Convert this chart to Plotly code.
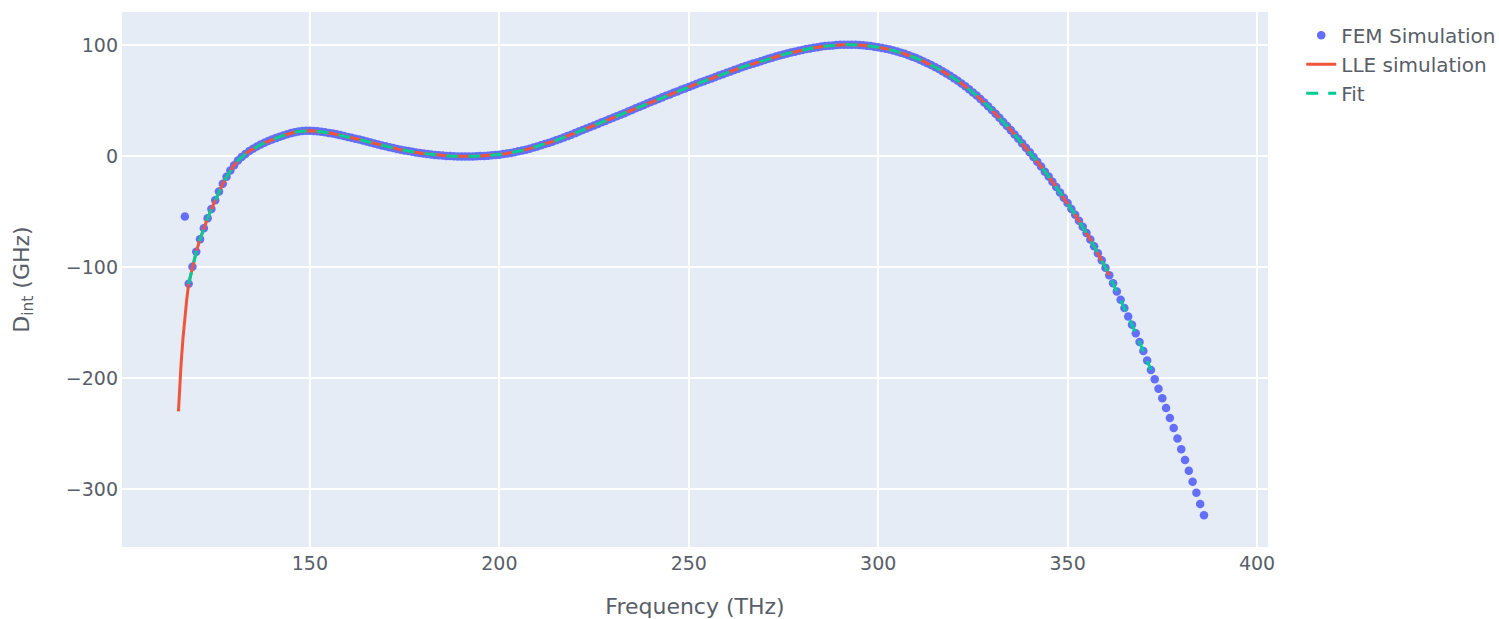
import plotly.graph_objects as go

# ---------------- data ----------------
fem_freq_thz = [
    117, 118, 119, 120, 121, 122, 123, 124, 125, 126, 127, 128, 129, 130, 131,
    132, 133, 134, 135, 136, 137, 138, 139, 140, 141, 142, 143, 144, 145, 146,
    147, 148, 149, 150, 151, 152, 153, 154, 155, 156, 157, 158, 159, 160, 161,
    162, 163, 164, 165, 166, 167, 168, 169, 170, 171, 172, 173, 174, 175, 176,
    177, 178, 179, 180, 181, 182, 183, 184, 185, 186, 187, 188, 189, 190, 191,
    192, 193, 194, 195, 196, 197, 198, 199, 200, 201, 202, 203, 204, 205, 206,
    207, 208, 209, 210, 211, 212, 213, 214, 215, 216, 217, 218, 219, 220, 221,
    222, 223, 224, 225, 226, 227, 228, 229, 230, 231, 232, 233, 234, 235, 236,
    237, 238, 239, 240, 241, 242, 243, 244, 245, 246, 247, 248, 249, 250, 251,
    252, 253, 254, 255, 256, 257, 258, 259, 260, 261, 262, 263, 264, 265, 266,
    267, 268, 269, 270, 271, 272, 273, 274, 275, 276, 277, 278, 279, 280, 281,
    282, 283, 284, 285, 286, 287, 288, 289, 290, 291, 292, 293, 294, 295, 296,
    297, 298, 299, 300, 301, 302, 303, 304, 305, 306, 307, 308, 309, 310, 311,
    312, 313, 314, 315, 316, 317, 318, 319, 320, 321, 322, 323, 324, 325, 326,
    327, 328, 329, 330, 331, 332, 333, 334, 335, 336, 337, 338, 339, 340, 341,
    342, 343, 344, 345, 346, 347, 348, 349, 350, 351, 352, 353, 354, 355, 356,
    357, 358, 359, 360, 361, 362, 363, 364, 365, 366, 367, 368, 369, 370, 371,
    372, 373, 374, 375, 376, 377, 378, 379, 380, 381, 382, 383, 384, 385, 386,
]
fem_dint_ghz = [
    -54.6, -115.1, -99.8, -86.3, -75.0, -65.1, -56.0, -47.8, -39.8, -31.9, -25.0, -18.7, -13.1, -8.3, -4.1,
    -0.8, 1.9, 4.4, 6.6, 8.5, 10.3, 11.9, 13.4, 14.8, 16.1, 17.3, 18.5, 19.6, 20.6, 21.4,
    22.1, 22.5, 22.8, 22.8, 22.6, 22.3, 21.9, 21.4, 20.8, 20.2, 19.5, 18.8, 18.0, 17.2, 16.4,
    15.6, 14.8, 13.9, 13.0, 12.1, 11.2, 10.3, 9.5, 8.7, 7.9, 7.1, 6.4, 5.7, 5.0, 4.4,
    3.8, 3.2, 2.7, 2.2, 1.8, 1.4, 1.0, 0.7, 0.4, 0.1, -0.1, -0.3, -0.4, -0.5, -0.5,
    -0.5, -0.4, -0.3, -0.1, 0.1, 0.3, 0.6, 0.9, 1.2, 1.7, 2.2, 2.8, 3.4, 4.2, 4.9,
    5.7, 6.6, 7.6, 8.6, 9.6, 10.7, 11.8, 12.9, 14.1, 15.4, 16.6, 17.9, 19.2, 20.6, 22.0,
    23.4, 24.7, 26.1, 27.4, 28.9, 30.3, 31.6, 33.0, 34.4, 35.8, 37.2, 38.6, 40.0, 41.5, 42.9,
    44.3, 45.7, 47.2, 48.6, 50.0, 51.3, 52.8, 54.2, 55.5, 56.9, 58.2, 59.6, 60.9, 62.2, 63.5,
    64.9, 66.1, 67.4, 68.7, 69.9, 71.2, 72.5, 73.7, 74.9, 76.2, 77.4, 78.6, 79.9, 81.0, 82.1,
    83.2, 84.3, 85.4, 86.5, 87.5, 88.6, 89.6, 90.5, 91.4, 92.4, 93.2, 94.0, 94.8, 95.5, 96.3,
    96.9, 97.5, 98.0, 98.6, 99.0, 99.3, 99.6, 100.0, 100.1, 100.2, 100.2, 100.2, 100.1, 99.9, 99.7,
    99.4, 99.0, 98.5, 97.9, 97.3, 96.7, 95.9, 95.0, 94.1, 93.1, 92.0, 90.8, 89.5, 88.2, 86.7,
    85.2, 83.6, 81.9, 80.1, 78.3, 76.4, 74.4, 72.2, 70.0, 67.7, 65.3, 62.8, 60.1, 57.3, 54.4,
    51.4, 48.2, 44.9, 41.4, 38.0, 34.4, 30.7, 27.1, 23.3, 19.4, 15.5, 11.5, 7.4, 3.3, -0.9,
    -5.2, -9.5, -14.1, -18.5, -23.2, -28.0, -32.8, -37.6, -42.4, -47.7, -53.0, -58.4, -63.8, -69.4, -75.3,
    -81.3, -87.5, -94.0, -100.6, -107.5, -114.7, -122.1, -129.5, -137.0, -144.6, -152.1, -159.7, -167.6, -175.7, -184.2,
    -192.8, -201.2, -209.7, -218.2, -227.0, -236.0, -245.0, -254.5, -264.2, -273.9, -283.6, -293.5, -303.4, -313.4, -323.5,
]

# LLE simulation: its own low-frequency start, then it follows the dispersion up to 361 THz
lle_tail_freq_thz = [115.3, 115.6, 116.0, 116.5, 117.0, 117.5]
lle_tail_dint_ghz = [-230.0, -210.0, -187.0, -164.0, -145.0, -129.0]
lle_last_thz = 361

# Fit spans 118 .. 372 THz
fit_first_thz = 118
fit_last_thz = 372

# ---------------- build traces ----------------
lle_x = lle_tail_freq_thz + [f for f in fem_freq_thz if fit_first_thz <= f <= lle_last_thz]
lle_y = lle_tail_dint_ghz + [d for f, d in zip(fem_freq_thz, fem_dint_ghz) if fit_first_thz <= f <= lle_last_thz]
fit_x = [f for f in fem_freq_thz if fit_first_thz <= f <= fit_last_thz]
fit_y = [d for f, d in zip(fem_freq_thz, fem_dint_ghz) if fit_first_thz <= f <= fit_last_thz]

TEXT = "#585e68"
FONT = "DejaVu Sans, Verdana, sans-serif"

fig = go.Figure()
fig.add_trace(go.Scatter(
    x=fem_freq_thz, y=fem_dint_ghz, mode="markers", name="FEM Simulation",
    marker=dict(color="#636efa", size=8.5, line=dict(width=0)),
))
fig.add_trace(go.Scatter(
    x=lle_x, y=lle_y, mode="lines", name="LLE simulation",
    line=dict(color="#EF553B", width=3),
))
fig.add_trace(go.Scatter(
    x=fit_x, y=fit_y, mode="lines", name="Fit",
    line=dict(color="#00cc96", width=3, dash="12px,10px"),
))

fig.update_layout(
    template="plotly",
    width=1499, height=619,
    margin=dict(l=122, r=231, t=12, b=72, autoexpand=False),
    paper_bgcolor="white",
    plot_bgcolor="#E5ECF6",
    font=dict(family=FONT, size=19, color=TEXT),
    legend=dict(
        x=1.029, y=0.993, xanchor="left", yanchor="top",
        font=dict(family=FONT, size=20, color=TEXT),
        bgcolor="rgba(0,0,0,0)",
    ),
    showlegend=True,
)
fig.update_xaxes(
    title=dict(text="Frequency (THz)", font=dict(size=22, color=TEXT), standoff=26),
    range=[100.4, 402.9], tickmode="linear", tick0=150, dtick=50,
    tickfont=dict(size=19, color=TEXT), ticklabelstandoff=3,
    gridcolor="white", gridwidth=1.5, zeroline=False, automargin=False,
)
fig.update_yaxes(
    title=dict(text="D<sub>int</sub> (GHz)", font=dict(size=22, color=TEXT), standoff=30),
    range=[-352.2, 129.7], tickmode="linear", tick0=0, dtick=100,
    tickfont=dict(size=19, color=TEXT), ticklabelstandoff=3,
    gridcolor="white", gridwidth=1.5, zeroline=True, zerolinecolor="white", zerolinewidth=2,
    automargin=False,
)

fig.write_html("out.html")
